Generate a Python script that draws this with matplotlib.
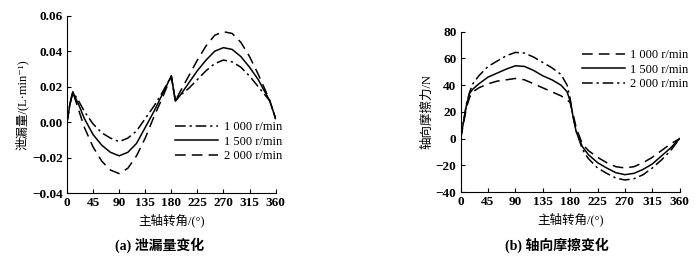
import matplotlib
matplotlib.use("Agg")
import matplotlib.pyplot as plt

plt.rcParams['font.family'] = ['Liberation Serif', 'Noto Sans CJK SC', 'DejaVu Sans']
plt.rcParams['axes.unicode_minus'] = True

# (a) leakage
angle_a = [0, 5, 10, 20, 30, 45, 60, 75, 90, 105, 120, 135, 150, 165, 180, 187,
           195, 210, 225, 240, 255, 270, 285, 300, 315, 330, 345, 350, 360]
leak_1000 = [0.000, 0.010, 0.017, 0.012, 0.006, -0.001, -0.006, -0.009, -0.011, -0.009,
             -0.005, 0.002, 0.009, 0.017, 0.026, 0.012, 0.015, 0.019, 0.024, 0.029,
             0.033, 0.035, 0.034, 0.031, 0.026, 0.020, 0.014, 0.012, 0.002]
leak_1500 = [0.000, 0.010, 0.017, 0.010, 0.002, -0.007, -0.013, -0.017, -0.019, -0.017,
             -0.012, -0.003, 0.006, 0.016, 0.026, 0.012, 0.015, 0.022, 0.029, 0.035,
             0.040, 0.042, 0.041, 0.037, 0.031, 0.024, 0.015, 0.012, 0.002]
leak_2000 = [0.000, 0.010, 0.017, 0.007, -0.003, -0.014, -0.022, -0.027, -0.029, -0.026,
             -0.019, -0.009, 0.003, 0.014, 0.026, 0.012, 0.017, 0.026, 0.035, 0.043,
             0.049, 0.051, 0.050, 0.045, 0.037, 0.027, 0.016, 0.012, 0.002]

# (b) axial friction
angle_b = [0, 10, 15, 20, 30, 45, 60, 75, 90, 105, 120, 135, 150, 165, 175, 180,
           185, 190, 200, 210, 225, 240, 255, 270, 285, 300, 315, 330, 345, 360]
fric_1000 = [0, 24, 31, 35, 38, 41, 43, 44, 45, 44, 41, 38, 35, 32, 29, 27,
             18, 8, -4, -9, -14, -18, -21, -22, -21, -18, -14, -9, -4, 0]
fric_1500 = [0, 26, 34, 37, 41, 46, 49, 52, 54.5, 54, 51, 47, 44, 40, 35, 28,
             16, 5, -6, -12, -18, -22, -25.5, -27, -26, -23, -19, -13, -7, 0]
fric_2000 = [0, 27, 35, 41, 47, 54, 58, 62, 64.5, 64, 61, 57, 53, 48, 40, 30,
             16, 6, -8, -15, -22, -26, -29.5, -31, -30, -27, -22, -16, -9, 0]

labels = ['1 000 r/min', '1 500 r/min', '2 000 r/min']
xticks = [0, 45, 90, 135, 180, 225, 270, 315, 360]

dashdot = (0, (7, 2.5, 1.5, 2.5))
dashed = (0, (7, 4))

fig = plt.figure(figsize=(7, 2.62), dpi=100)
ax1 = fig.add_axes([0.0957, 0.263, 0.298, 0.677])
ax2 = fig.add_axes([0.658, 0.267, 0.313, 0.612])

lw = 1.1
ax1.plot(angle_a, leak_1000, color='black', lw=lw, linestyle=dashdot, label=labels[0])
ax1.plot(angle_a, leak_1500, color='black', lw=lw, linestyle='-', label=labels[1])
ax1.plot(angle_a, leak_2000, color='black', lw=lw, linestyle=dashed, label=labels[2])
ax1.set_ylim(-0.04, 0.06)
ax1.set_yticks([-0.04, -0.02, 0.00, 0.02, 0.04, 0.06])
ax1.set_yticklabels(['−0.04', '−0.02', '0.00', '0.02', '0.04', '0.06'])
ax1.set_ylabel('泄漏量/(L·min⁻¹)', fontsize=9, labelpad=2)
ax1.legend(loc='upper left', bbox_to_anchor=(0.49, 0.44), frameon=False, fontsize=9,
           handlelength=3.4, handletextpad=0.45, labelspacing=0.2, borderpad=0)

ax2.plot(angle_b, fric_1000, color='black', lw=lw, linestyle=dashed, label=labels[0])
ax2.plot(angle_b, fric_1500, color='black', lw=lw, linestyle='-', label=labels[1])
ax2.plot(angle_b, fric_2000, color='black', lw=lw, linestyle=dashdot, label=labels[2])
ax2.set_ylim(-40, 80)
ax2.set_yticks([-40, -20, 0, 20, 40, 60, 80])
ax2.set_yticklabels(['−40', '−20', '0', '20', '40', '60', '80'])
ax2.set_ylabel('轴向摩擦力/N', fontsize=9, labelpad=2)
ax2.legend(loc='upper left', bbox_to_anchor=(0.526, 0.93), frameon=False, fontsize=9,
           handlelength=3.4, handletextpad=0.45, labelspacing=0.2, borderpad=0)

for ax in (ax1, ax2):
    ax.set_xlim(0, 360)
    ax.set_xticks(xticks)
    ax.set_xlabel('主轴转角/(°)', fontsize=9, labelpad=3)
    ax.spines['top'].set_visible(False)
    ax.spines['right'].set_visible(False)
    ax.tick_params(direction='in', length=3, width=0.8, labelsize=9.5, pad=3)
    for t in ax.get_xticklabels() + ax.get_yticklabels():
        t.set_fontweight('bold')

fig.text(0.228, 0.065, '(a) 泄漏量变化', ha='center', va='center', fontsize=10, fontweight='bold')
fig.text(0.795, 0.065, '(b) 轴向摩擦变化', ha='center', va='center', fontsize=10, fontweight='bold')

fig.savefig('out.png', dpi=100)
